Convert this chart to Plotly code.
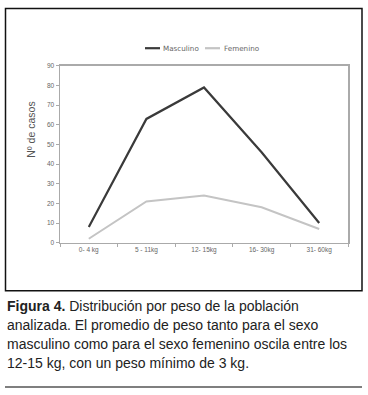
import plotly.graph_objects as go

categorias = ["0- 4 kg", "5 - 11kg", "12- 15kg", "16- 30kg", "31- 60kg"]
masculino = [8, 63, 79, 46, 10]
femenino = [2, 21, 24, 18, 7]
y_ticks = [0, 10, 20, 30, 40, 50, 60, 70, 80, 90]
series_names = ["Masculino", "Femenino"]
series_colors = ["#3a3a3a", "#c4c4c4"]

W, H = 368, 395

def px(x):
    return x / W

def py(y):
    return (H - y) / H

fig = go.Figure()
fig.add_trace(go.Scatter(x=categorias, y=masculino, mode="lines", name=series_names[0],
                         line=dict(color=series_colors[0], width=2.2), showlegend=False))
fig.add_trace(go.Scatter(x=categorias, y=femenino, mode="lines", name=series_names[1],
                         line=dict(color=series_colors[1], width=2), showlegend=False))

fig.update_layout(
    width=W, height=H,
    margin=dict(l=0, r=0, t=0, b=0),
    paper_bgcolor="white", plot_bgcolor="white",
    font=dict(family="Liberation Sans, Arial, sans-serif", color="#555"),
    xaxis=dict(domain=[px(60), px(348)], type="category", range=[-0.5, 4.5],
               showgrid=False, showline=True, linecolor="#aaaaaa", linewidth=1.5, mirror=True,
               ticks="outside", tickson="boundaries", ticklen=3, tickcolor="#aaaaaa",
               tickfont=dict(size=6.5, color="#666"), fixedrange=True),
    yaxis=dict(domain=[py(243), py(63)], range=[0, 90], tickvals=y_ticks,
               showgrid=False, showline=True, linecolor="#aaaaaa", linewidth=1.5, mirror=True,
               ticks="outside", ticklen=3, tickcolor="#aaaaaa",
               tickfont=dict(size=6.5, color="#666"), zeroline=False, fixedrange=True),
)

# legend (drawn manually to match the compact original)
legend_items = [(145, 160, 161), (205, 220, 222)]
for (lx0, lx1, tx), name, col in zip(legend_items, series_names, series_colors):
    fig.add_shape(type="line", xref="paper", yref="paper", x0=px(lx0), x1=px(lx1), y0=py(45), y1=py(45),
                  line=dict(color=col, width=2.2))
    fig.add_annotation(text=name, xref="paper", yref="paper", x=px(tx), y=py(45),
                       xanchor="left", yanchor="middle", showarrow=False,
                       font=dict(size=7.2, color="#666", family="DejaVu Sans, sans-serif"))

fig.add_annotation(text="Nº de casos", xref="paper", yref="paper", x=px(31), y=py(128),
                   textangle=-90, showarrow=False, font=dict(size=10.5, color="#555"),
                   xanchor="center", yanchor="middle")

# outer frame
fig.add_shape(type="rect", xref="paper", yref="paper", x0=px(5.5), x1=px(362), y0=py(292), y1=py(4.5),
              line=dict(color="#111", width=1.5), fillcolor="rgba(0,0,0,0)", layer="below")
# bottom rule
fig.add_shape(type="line", xref="paper", yref="paper", x0=px(5), x1=px(362), y0=py(390), y1=py(390),
              line=dict(color="#555", width=1.5))

caption = [
    "<b>Figura 4.</b> Distribución por peso de la población",
    "analizada. El promedio de peso tanto para el sexo",
    "masculino como para el sexo femenino oscila entre los",
    "12-15 kg, con un peso mínimo de 3 kg.",
]
caption_y = [307, 327, 346, 365]
for line, yy in zip(caption, caption_y):
    fig.add_annotation(text=line, xref="paper", yref="paper", x=px(5), y=py(yy),
                       xanchor="left", yanchor="middle", showarrow=False,
                       font=dict(size=14, color="#222", family="Liberation Sans, Arial, sans-serif"))

fig.write_html("out.html", config={"displayModeBar": False, "staticPlot": True},
               post_script="document.body.style.margin='0';document.body.style.overflow='hidden';")
